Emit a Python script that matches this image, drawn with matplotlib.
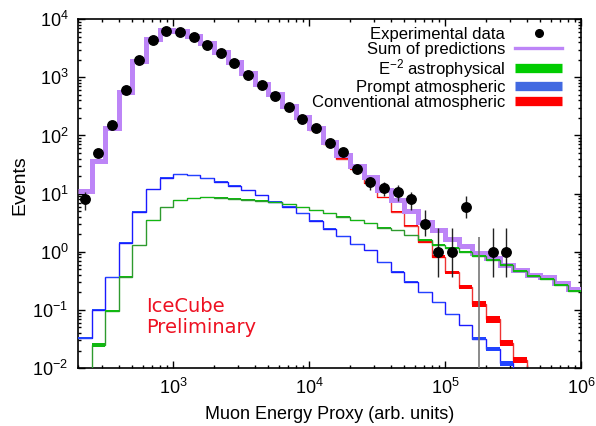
import numpy as np
import matplotlib
matplotlib.use('Agg')
import matplotlib.pyplot as plt
from matplotlib.lines import Line2D

plt.rcParams['font.family'] = ['Liberation Sans', 'DejaVu Sans']
plt.rcParams['mathtext.fontset'] = 'custom'
plt.rcParams['mathtext.rm'] = 'Liberation Sans'
plt.rcParams['mathtext.it'] = 'Liberation Sans:italic'

# histogram binning: 0.1 in log10(E) from 10^2.3 to 10^6
log_edges = np.round(np.arange(2.3, 6.01, 0.1), 2)
edges = 10 ** log_edges

# sum of predictions (purple)
sum_pred = [11.2, 36.3, 132, 563, 1920, 4530, 6480, 6220, 5100, 3920,
            2740, 1850, 1170, 755, 508, 320, 209, 132, 78, 46,
            30, 19.2, 11.7, 7.8, 5.1, 3.3, 2.35, 1.65, 1.25, 0.96,
            0.78, 0.6, 0.49, 0.40, 0.365, 0.29, 0.227]

# conventional atmospheric (red)
conv = [11.1, 36.2, 131.5, 561, 1914, 4514, 6456, 6190, 5070, 3892,
        2715, 1828, 1150, 738, 494, 307, 198, 123, 70, 40,
        26, 15, 8.6, 4.9, 2.78, 1.49, 0.82, 0.44, 0.245, 0.127,
        0.069, 0.027, 0.0138, 0.006, 0.003, 0.0015, 0.0008]
conv_err = [0.02] * 25 + [0.05, 0.06, 0.07, 0.08, 0.10, 0.12, 0.12, 0.13,
                          0.13, 0.13, 0.13, 0.13]

# prompt atmospheric (blue)
prompt = [0.0326, 0.1, 0.365, 1.44, 4.9, 12, 18.7, 21.4, 20.6, 18.3,
          16, 13.7, 11.5, 9.5, 7.3, 6.0, 4.6, 3.4, 2.5, 1.85,
          1.35, 1.07, 0.66, 0.455, 0.306, 0.20, 0.135, 0.084, 0.055, 0.032,
          0.021, 0.012, 0.006, 0.003, 0.0015, 0.0008, 0.0004]
prompt_err = [0.03, 0.02] + [0.015] * 27 + [0.06, 0.08, 0.11, 0.12,
                                            0.12, 0.12, 0.12, 0.12]

# E^-2 astrophysical (green)
astro = [0.003, 0.025, 0.096, 0.373, 1.31, 3.5, 5.9, 7.7, 8.3, 8.6,
         8.5, 8.2, 7.85, 7.55, 7.1, 6.55, 5.8, 5.2, 4.6, 4.0,
         3.5, 3.1, 2.6, 2.37, 1.95, 1.6, 1.31, 1.15, 1.0, 0.85,
         0.72, 0.59, 0.47, 0.38, 0.34, 0.27, 0.215]
astro_err = [0.1, 0.07, 0.04] + [0.015] * 22 + [0.04] * 12

# experimental data (bin centres 10^2.35 ... 10^5.45)
counts = [8, 49, 149, 596, 1950, 4360, 6300, 5900, 4840, 3530,
          2570, 1750, 1080, 735, 470, 312, 194, 132, 74, 52,
          27, 15.6, 12.6, 10.8, 8, 3, 1, 1, 6, 0, 1, 1]
counts_lo = [5.2, 42, 137, 572, 1906, 4294, 6221, 5823, 4770, 3471,
             2519, 1708, 1047, 708, 448, 294, 180, 120.5, 65.4, 44.8,
             21.8, 11.7, 9.1, 7.5, 5.2, 1.87, 0.37, 0.37, 3.76, 0.001, 0.37, 0.37]
counts_hi = [10.8, 56, 161, 620, 1994, 4426, 6379, 5977, 4910, 3589,
             2621, 1792, 1113, 762, 492, 330, 208, 143.5, 82.6, 59.2,
             32.2, 19.5, 16.1, 14.1, 10.7, 5.2, 2.6, 2.6, 9.1, 1.8, 2.6, 2.6]

fig = plt.figure(figsize=(5.96, 4.26), dpi=100)
ax = fig.add_axes([0.131, 0.136, 0.844, 0.819])

widths = np.diff(edges)


def band(values, rel, color, zorder):
    v = np.array(values)
    r = np.array(rel)
    lo = v * (1 - r)
    hi = v * (1 + r)
    ax.bar(edges[:-1], hi - lo, width=widths, bottom=lo, align='edge',
           color=color, linewidth=0, zorder=zorder)


# conventional (under the sum)
ax.stairs(conv, edges, baseline=None, color='#ee3333', lw=1.0, zorder=2)
band(conv, conv_err, '#ff0000', 2.1)
# sum of predictions
ax.stairs(sum_pred, edges, baseline=None, color='#bd85f7', lw=3.6, zorder=3)
# prompt
ax.stairs(prompt, edges, baseline=None, color='#1a1aff', lw=1.0, zorder=4)
band(prompt, prompt_err, '#2244ff', 4.1)
# astrophysical
ax.stairs(astro, edges, baseline=None, color='#2e9a2e', lw=1.0, zorder=5)
band(astro, astro_err, '#11b811', 5.1)

# data
c = np.array(counts, dtype=float)
lo = np.array(counts_lo)
hi = np.array(counts_hi)
centers = 10 ** (log_edges[:len(c)] + 0.05)
has = c > 0
ax.errorbar(centers[has], c[has], yerr=[c[has] - lo[has], hi[has] - c[has]],
            fmt='o', color='black', ms=6.8, elinewidth=1, ecolor='#222222',
            capsize=0, zorder=7)
ax.vlines(centers[~has], lo[~has], hi[~has], color='#777777', lw=1.2, zorder=6)

ax.set_xscale('log')
ax.set_yscale('log')
ax.set_xlim(10 ** 2.3, 1e6)
ax.set_ylim(1e-2, 1e4)

ax.tick_params(which='both', direction='in', top=True, right=True, width=1)
ax.tick_params(which='major', length=5, pad=7, labelsize=13)
ax.tick_params(which='minor', length=2.5)
for s in ax.spines.values():
    s.set_linewidth(1.2)

ax.set_xlabel('Muon Energy Proxy (arb. units)', fontsize=13, labelpad=6)
ax.set_ylabel('Events', fontsize=14, labelpad=4)
ax.yaxis.set_label_coords(-0.098, 0.525)

ax.text(0.135, 0.205, 'IceCube\nPreliminary', transform=ax.transAxes,
        fontsize=14, color='#ee1122', family='DejaVu Sans', va='top',
        ha='left', linespacing=1.15)

handles = [
    Line2D([], [], ls='none', marker='o', color='black', ms=5.5),
    Line2D([], [], color='#bd85f7', lw=2.4),
    Line2D([], [], color='#00cc00', lw=6.7, solid_capstyle='butt'),
    Line2D([], [], color='#4169e1', lw=6.7, solid_capstyle='butt'),
    Line2D([], [], color='#ff0000', lw=6.7, solid_capstyle='butt'),
]
labels = ['Experimental data', 'Sum of predictions',
          r'E$^{\mathdefault{-2}}$ astrophysical', 'Prompt atmospheric',
          'Conventional atmospheric']
ax.legend(handles, labels, loc='upper right', bbox_to_anchor=(0.962, 0.978),
          frameon=False, fontsize=12, markerfirst=False, handlelength=2.8,
          handletextpad=0.6, labelspacing=0.0, borderpad=0, borderaxespad=0)

fig.savefig('out.png', dpi=100)
